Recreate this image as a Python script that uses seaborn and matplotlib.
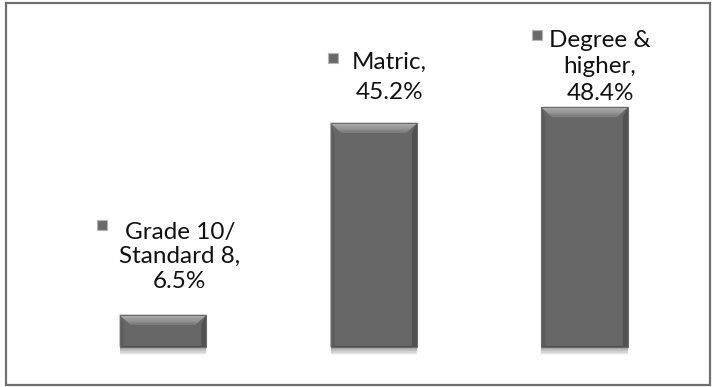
import matplotlib
matplotlib.use("Agg")
import matplotlib.pyplot as plt
import matplotlib.patheffects as pe
from matplotlib.patches import Polygon, Rectangle
import matplotlib.transforms as mtransforms
import numpy as np
import seaborn as sns
import pandas as pd

# Highest level of education, share of respondents (%)
categories = ["Grade 10/\nStandard 8", "Matric", "Degree &\nhigher"]
values = [6.5, 45.2, 48.4]

# label placement relative to each bar top (pixels): text centre and key square
label_offsets = [(17, 58), (15.5, 45.5), (15.5, 40)]
key_offsets = [(-61, 90), (-40.5, 65), (-47.5, 72)]
label_spacing = [1.22, 1.5, 1.3]

sns.set_theme(style="white")
plt.rcParams["font.family"] = ["Lato", "DejaVu Sans"]

W, H = 715, 387
fig = plt.figure(figsize=(W / 100, H / 100), dpi=100)
fig.patch.set_facecolor("white")

# outer frame
fig.add_artist(Rectangle((5.5 / W, 2.5 / H), (710 - 5.5) / W, (384.5 - 2.5) / H,
                         transform=fig.transFigure, fill=False,
                         edgecolor="#6e6e6e", linewidth=1.6))

ax = fig.add_axes([57.5 / W, (H - 347) / H, (690 - 57.5) / W, (347 - 49.4) / H])
df = pd.DataFrame({"level": categories, "pct": values})
sns.barplot(data=df, x="level", y="pct", color="#676767", saturation=1,
            width=0.41, ax=ax, edgecolor="none", linewidth=0)
ax.set_ylim(0, 60)
ax.set_xlim(-0.5, 2.5)
ax.set_axis_off()

# soft drop shadow under each bar
shadow = [pe.SimplePatchShadow(offset=(0, -d), shadow_rgbFace="black", alpha=a)
          for d, a in [(6, 0.04), (5, 0.06), (4, 0.08), (3, 0.10), (1.5, 0.10)]] + [pe.Normal()]

# bevelled faces for each bar
px_x = 1 / 211.0
px_y = 60 / (347 - 49.4)
bars = list(ax.patches)
for bar in bars:
    bar.set_clip_on(False)
    bar.set_path_effects(shadow)
    x0, y0 = bar.get_x(), bar.get_y()
    w, h = bar.get_width(), bar.get_height()
    x1, y1 = x0 + w, y0 + h
    dx, dy = 11 * px_x, min(10 * px_y, h * 0.35)
    # side and bottom bevels
    sides = [
        ([(x0, y0), (x0, y1), (x0 + dx * 0.35, y1 - dy), (x0 + dx * 0.35, y0 + px_y)], "#5c5c5c"),
        ([(x1, y0), (x1, y1), (x1 - dx * 0.45, y1 - dy), (x1 - dx * 0.45, y0 + px_y)], "#515151"),
        ([(x0, y0), (x1, y0), (x1 - dx * 0.45, y0 + px_y), (x0 + dx * 0.35, y0 + px_y)], "#4c4c4c"),
    ]
    for pts, col in sides:
        ax.add_patch(Polygon(pts, closed=True, facecolor=col, edgecolor="none", zorder=3))
    # top bevel, shaded from light at the rim down to just above the face colour
    n = 8
    shades = np.linspace(0.72, 0.50, n)
    for k in range(n):
        t0, t1 = k / n, (k + 1) / n
        pts = [(x0 + dx * t0, y1 - dy * t0), (x1 - dx * t0, y1 - dy * t0),
               (x1 - dx * t1, y1 - dy * t1), (x0 + dx * t1, y1 - dy * t1)]
        g = float(shades[k])
        ax.add_patch(Polygon(pts, closed=True, facecolor=(g, g, g),
                             edgecolor=(g, g, g), linewidth=0.3, zorder=3))
    ax.add_patch(Rectangle((x0, y0), w, h, fill=False, edgecolor="#6a6a6a",
                           linewidth=0.8, zorder=4, clip_on=False))

# data labels with legend key squares
for i, (cat, val) in enumerate(zip(categories, values)):
    ax.annotate(f"{cat},\n{val}%", xy=(i, val), xytext=label_offsets[i],
                textcoords="offset pixels", ha="center", va="center",
                multialignment="center", fontsize=17.5, color="#111111",
                linespacing=label_spacing[i], annotation_clip=False)
    shift = mtransforms.ScaledTranslation(key_offsets[i][0] / 100,
                                          key_offsets[i][1] / 100, fig.dpi_scale_trans)
    ax.plot([i], [val], marker="s", markersize=6.5, color="#6a6a6a",
            markeredgecolor="#b5b5b5", markeredgewidth=0.8, clip_on=False,
            transform=ax.transData + shift, zorder=5)

fig.savefig("out.png", dpi=100, facecolor="white")
